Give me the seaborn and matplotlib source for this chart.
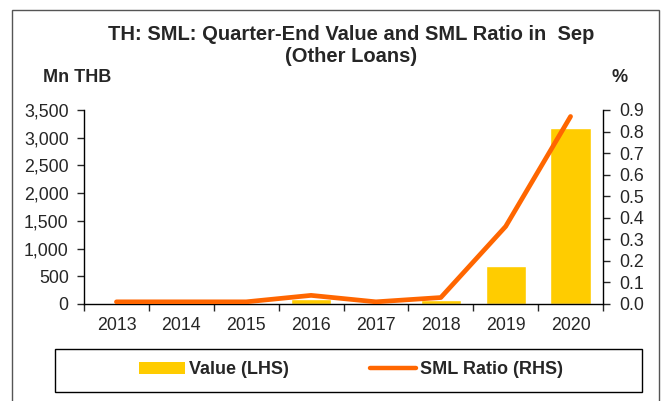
import numpy as np
import pandas as pd
import matplotlib
matplotlib.use("Agg")
import matplotlib.pyplot as plt
import seaborn as sns
from matplotlib.patches import Patch, Rectangle
from matplotlib.lines import Line2D
from matplotlib.ticker import FuncFormatter

# dados
anos = ["2013", "2014", "2015", "2016", "2017", "2018", "2019", "2020"]
valor = [25, 5, 10, 85, 15, 80, 690, 3180]          # Mn THB (LHS)
razao = [0.01, 0.01, 0.01, 0.04, 0.01, 0.03, 0.36, 0.87]  # % (RHS)

df = pd.DataFrame({"ano": anos, "valor": valor, "razao": razao})

sns.set_style("white")
plt.rcParams["font.family"] = ["Liberation Sans", "DejaVu Sans"]

amarelo = "#FFCC00"
laranja = "#FF6600"

W, H = 667, 401
fig = plt.figure(figsize=(W / 100, H / 100), dpi=100)
ax = fig.add_axes([84 / W, 1 - 304 / H, 519 / W, 194 / H])

sns.barplot(data=df, x="ano", y="valor", color=amarelo, width=0.62,
            saturation=1, ax=ax)
ax.set_ylim(0, 3500)
ax.set_xlim(-0.5, len(anos) - 0.5)
ax.set_yticks(np.arange(0, 3501, 500))
ax.yaxis.set_major_formatter(FuncFormatter(lambda v, p: f"{v:,.0f}"))
ax.set_xlabel("")
ax.set_ylabel("")

ax2 = ax.twinx()
sns.lineplot(x=np.arange(len(anos)), y=df["razao"], color=laranja,
             linewidth=3.4, ax=ax2)
ax2.set_ylim(0, 0.9)
ax2.set_yticks(np.arange(0, 0.91, 0.1))
ax2.yaxis.set_major_formatter(FuncFormatter(lambda v, p: f"{v:.1f}"))
ax2.set_xlim(-0.5, len(anos) - 0.5)
ax2.set_ylabel("")

# eixos
for a in (ax, ax2):
    for s in a.spines.values():
        s.set_visible(False)
    a.grid(False)
ax.spines["left"].set_visible(True)
ax.spines["bottom"].set_visible(True)
ax2.spines["right"].set_visible(True)
for s in (ax.spines["left"], ax.spines["bottom"], ax2.spines["right"]):
    s.set_color("black")
    s.set_linewidth(1)

ax.tick_params(axis="y", left=True, length=5, width=1, labelsize=12.8, pad=6)
ax2.tick_params(axis="y", right=True, length=5, width=1, labelsize=12.8, pad=7)
ax.set_xticks(np.arange(-0.5, len(anos), 1), minor=True)
ax.tick_params(axis="x", which="major", length=0, labelsize=12.8, pad=9)
ax.tick_params(axis="x", which="minor", bottom=True, length=5, width=1)

# textos
fig.text(351 / W, 1 - 35 / H, "TH: SML: Quarter-End Value and SML Ratio in  Sep",
         ha="center", va="center", fontsize=14.5, fontweight="bold")
fig.text(351 / W, 1 - 56 / H, "(Other Loans)",
         ha="center", va="center", fontsize=14.5, fontweight="bold")
fig.text(43 / W, 1 - 78 / H, "Mn THB", ha="left", va="center",
         fontsize=13, fontweight="bold")
fig.text(612 / W, 1 - 77 / H, "%", ha="left", va="center",
         fontsize=13, fontweight="bold")

# legenda
handles = [Patch(facecolor=amarelo, edgecolor="none"),
           Line2D([0], [0], color=laranja, linewidth=3.2)]
leg = fig.legend(handles, ["Value (LHS)", "SML Ratio (RHS)"], ncol=2,
                 loc="center", bbox_to_anchor=(351 / W, 1 - 370 / H),
                 frameon=False, handlelength=2.55, handleheight=0.67,
                 handletextpad=0.22, columnspacing=4.5, borderaxespad=0,
                 prop={"weight": "bold", "size": 13})
fig.patches.append(Rectangle((55 / W, 1 - 392 / H), 587 / W, 43 / H,
                             transform=fig.transFigure, fill=False,
                             edgecolor="black", linewidth=1))

# moldura externa
fig.patches.append(Rectangle((12 / W, -0.05), 647 / W, 1.05 - 10 / H,
                             transform=fig.transFigure, fill=False,
                             edgecolor="#555555", linewidth=1, clip_on=False))

fig.savefig("out.png", dpi=100)
